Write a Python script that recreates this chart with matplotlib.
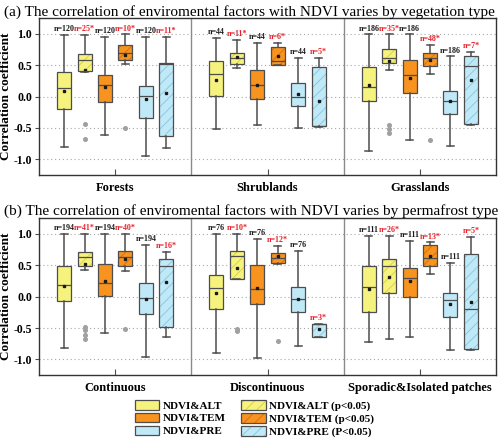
import matplotlib
matplotlib.use("Agg")
import matplotlib.pyplot as plt
from matplotlib.patches import Patch, PathPatch

plt.rcParams['font.family'] = ['Liberation Serif', 'DejaVu Serif']
plt.rcParams['hatch.linewidth'] = 0.6

# series order inside every group
series = ["NDVI&ALT", "NDVI&ALT (p<0.05)", "NDVI&TEM", "NDVI&TEM (p<0.05)",
          "NDVI&PRE", "NDVI&PRE (P<0.05)"]
significant = [False, True, False, True, False, True]
fill_colors = ["#f6f27e", "#f6f27e", "#f7931e", "#f7931e", "#c0e9f8", "#c0e9f8"]
hatch_colors = ["#d6cd3c", "#d6cd3c", "#d06e12", "#d06e12", "#86c4de", "#86c4de"]

# (a) vegetation type
veg_types = ["Forests", "Shrublands", "Grasslands"]
veg_whishi = [[0.98, 0.98, 0.95, 0.99, 0.95, 0.95],
              [0.94, 0.90, 0.86, 0.86, 0.61, 0.62],
              [0.99, 0.99, 0.99, 0.82, 0.64, 0.71]]
veg_q3 = [[0.39, 0.675, 0.34, 0.83, 0.17, 0.53],
          [0.56, 0.69, 0.43, 0.785, 0.22, 0.47],
          [0.47, 0.76, 0.59, 0.70, 0.09, 0.64]]
veg_med = [[0.13, 0.585, 0.19, 0.69, 0.01, 0.52],
           [0.36, 0.61, 0.19, 0.57, 0.0, -0.47],
           [0.16, 0.62, 0.35, 0.61, -0.07, 0.48]]
veg_q1 = [[-0.20, 0.40, -0.09, 0.58, -0.34, -0.63],
          [0.01, 0.52, -0.04, 0.51, -0.15, -0.47],
          [-0.07, 0.53, 0.06, 0.48, -0.28, -0.43]]
veg_whislo = [[-0.80, 0.39, -0.62, 0.52, -0.94, -0.82],
              [-0.52, 0.46, -0.45, 0.51, -0.50, -0.49],
              [-0.87, 0.43, -0.70, 0.36, -0.79, -0.46]]
veg_mean = [[0.09, 0.43, 0.15, 0.66, -0.04, 0.06],
            [0.26, 0.63, 0.18, 0.64, 0.04, -0.07],
            [0.18, 0.57, 0.29, 0.58, -0.07, 0.26]]
veg_n = [[120, 25, 120, 10, 120, 11],
         [44, 11, 44, 6, 44, 5],
         [186, 35, 186, 48, 186, 7]]
veg_fliers = [[[], [-0.43, -0.67], [], [-0.50], [], []],
              [[], [], [], [], [], []],
              [[], [-0.46, -0.51, -0.58], [], [-0.70], [], []]]

# (b) permafrost type
perm_types = ["Continuous", "Discontinuous", "Sporadic&Isolated patches"]
perm_whishi = [[1.0, 1.0, 1.0, 1.0, 0.82, 0.71],
               [1.0, 1.0, 0.91, 0.80, 0.72, -0.44],
               [0.97, 0.97, 0.88, 0.86, 0.54, 0.95]]
perm_q3 = [[0.48, 0.71, 0.52, 0.72, 0.21, 0.60],
           [0.34, 0.73, 0.51, 0.70, 0.16, -0.44],
           [0.48, 0.60, 0.45, 0.82, 0.05, 0.68]]
perm_med = [[0.19, 0.63, 0.22, 0.63, -0.03, 0.49],
            [0.13, 0.65, 0.12, 0.61, -0.04, -0.44],
            [0.16, 0.49, 0.29, 0.61, -0.06, -0.20]]
perm_q1 = [[-0.07, 0.49, 0.01, 0.49, -0.27, -0.48],
           [-0.19, 0.28, -0.11, 0.53, -0.24, -0.65],
           [-0.25, 0.05, 0.0, 0.48, -0.32, -0.84]]
perm_whislo = [[-0.82, 0.43, -0.58, 0.41, -0.96, -0.65],
               [-0.89, 0.28, -0.97, 0.52, -0.78, -0.65],
               [-0.72, -0.68, -0.64, 0.36, -0.85, -0.85]]
perm_mean = [[0.17, 0.52, 0.24, 0.60, -0.04, 0.23],
             [0.06, 0.46, 0.14, 0.64, -0.04, -0.52],
             [0.12, 0.31, 0.25, 0.64, -0.12, -0.08]]
perm_n = [[194, 41, 194, 40, 194, 16],
          [76, 10, 76, 12, 76, 3],
          [111, 26, 111, 13, 111, 5]]
perm_fliers = [[[], [-0.48, -0.53, -0.61, -0.68], [], [-0.51], [], []],
               [[], [-0.51, -0.54], [], [-0.70], [], []],
               [[], [], [], [], [], []]]

EDGE = "#4d4d4d"
STEP = 0.134
WIDTH = 0.092


def draw_panel(ax, cats, whishi, q3, med, q1, whislo, mean, n, fliers):
    stats, pos, kinds = [], [], []
    for g in range(len(cats)):
        for k in range(len(series)):
            stats.append(dict(whishi=whishi[g][k], q3=q3[g][k], med=med[g][k],
                              q1=q1[g][k], whislo=whislo[g][k], mean=mean[g][k],
                              fliers=fliers[g][k]))
            pos.append(g + 0.5 + (k - 2.5) * STEP)
            kinds.append(k)

    art = ax.bxp(stats, positions=pos, widths=WIDTH, patch_artist=True,
                 showmeans=True,
                 boxprops=dict(edgecolor=EDGE, linewidth=0.9),
                 medianprops=dict(color=EDGE, linewidth=0.9),
                 whiskerprops=dict(color=EDGE, linewidth=1.1),
                 capprops=dict(color=EDGE, linewidth=1.1),
                 meanprops=dict(marker='s', markerfacecolor='#1a1a1a',
                                markeredgecolor='#1a1a1a', markersize=2.0),
                 flierprops=dict(marker='o', markerfacecolor='#a0a0a0',
                                 markeredgecolor='#a0a0a0', markersize=2.6))

    for box, k in zip(art['boxes'], kinds):
        box.set_facecolor(fill_colors[k])
        if significant[k]:
            # hatch drawn in a darker tint, outline added on top
            box.set_hatch('///')
            box.set_edgecolor(hatch_colors[k])
            box.set_linewidth(0)
            outline = PathPatch(box.get_path(), fill=False, edgecolor=EDGE,
                                linewidth=0.9, zorder=box.get_zorder() + 0.1)
            ax.add_patch(outline)

    for g in range(len(cats)):
        for k in range(len(series)):
            p = g + 0.5 + (k - 2.5) * STEP
            label = "n=%d" % n[g][k] + ("*" if significant[k] else "")
            ax.text(p, whishi[g][k] + 0.03, label, ha='center', va='bottom',
                    fontsize=5.8, fontweight='bold',
                    color="#e8202a" if significant[k] else "#1a1a1a")

    for d in range(1, len(cats)):
        ax.axvline(d, color='#8a8a8a', linewidth=1.0, zorder=1)

    ax.set_xlim(0, len(cats))
    ax.set_ylim(-1.25, 1.25)
    yt = [-1.0, -0.5, 0.0, 0.5, 1.0]
    ax.set_yticks(yt)
    ax.set_yticklabels(["%.1f" % v for v in yt], fontsize=8.5, fontweight='bold')
    ax.set_xticks([g + 0.5 for g in range(len(cats))])
    ax.set_xticklabels(cats, fontsize=9, fontweight='bold')
    ax.tick_params(axis='x', direction='in', length=4, pad=5, color=EDGE)
    ax.tick_params(axis='y', direction='out', length=3, pad=2, color=EDGE)
    ax.grid(axis='y', linestyle=(0, (1, 2.5)), color='#a8a8a8', linewidth=0.8)
    ax.set_axisbelow(True)
    for s in ax.spines.values():
        s.set_color('#333333')
        s.set_linewidth(1.0)
    ax.set_ylabel("Correlation coefficient", fontsize=9.5, fontweight='bold')
    ax.yaxis.set_label_coords(-0.058, 0.5)


fig = plt.figure(figsize=(5.0, 4.43), dpi=100)
ax_a = fig.add_axes([0.078, 0.605, 0.914, 0.354])
ax_b = fig.add_axes([0.078, 0.153, 0.914, 0.355])

draw_panel(ax_a, veg_types, veg_whishi, veg_q3, veg_med, veg_q1, veg_whislo,
           veg_mean, veg_n, veg_fliers)
draw_panel(ax_b, perm_types, perm_whishi, perm_q3, perm_med, perm_q1,
           perm_whislo, perm_mean, perm_n, perm_fliers)

fig.text(0.008, 0.973, "(a) The correlation of enviromental factors with NDVI varies by vegetation type",
         fontsize=11, va='center', ha='left')
fig.text(0.008, 0.524, "(b) The correlation of enviromental factors with NDVI varies by permafrost type",
         fontsize=11, va='center', ha='left')

handles = []
for k in range(len(series)):
    if significant[k]:
        h = (Patch(facecolor=fill_colors[k], edgecolor=hatch_colors[k],
                   hatch='///', linewidth=0),
             Patch(fill=False, edgecolor=EDGE, linewidth=0.9))
    else:
        h = Patch(facecolor=fill_colors[k], edgecolor=EDGE, linewidth=0.9)
    handles.append(h)
order = [0, 2, 4, 1, 3, 5]
fig.legend([handles[i] for i in order], [series[i] for i in order],
           ncol=2, loc='upper left', bbox_to_anchor=(0.27, 0.097),
           frameon=False, borderpad=0, borderaxespad=0,
           handlelength=2.2, handleheight=0.95, handletextpad=0.3,
           labelspacing=0.2, columnspacing=1.4,
           prop=dict(family='Liberation Serif', weight='bold', size=8))

fig.savefig("out.png", dpi=100)
